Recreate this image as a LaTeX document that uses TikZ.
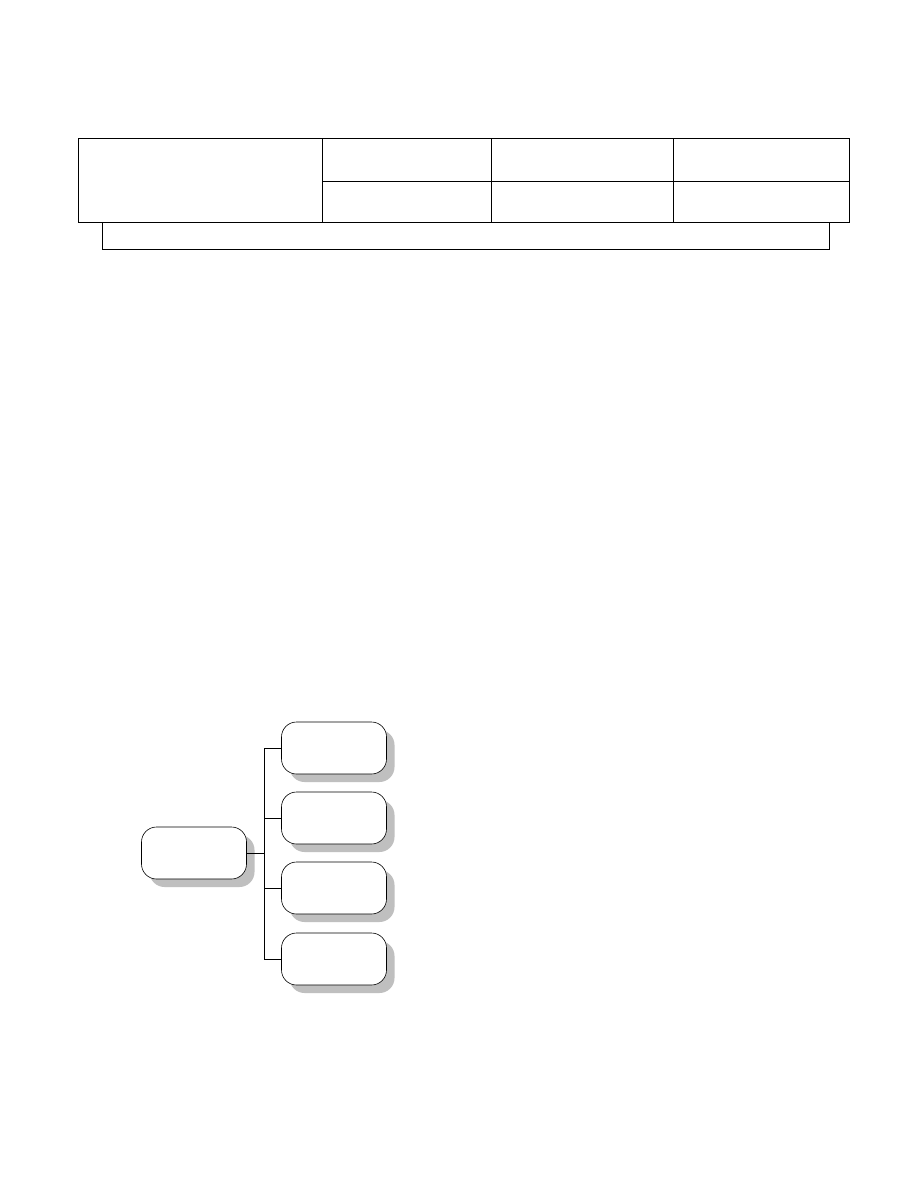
\documentclass[tikz,border=0pt]{standalone}
\usetikzlibrary{shadows}
\begin{document}
\begin{tikzpicture}[x=1pt,y=-1pt,
  cell/.style={draw=black,line width=1pt,inner sep=0pt,anchor=north west},
  rbox/.style={draw=black,line width=0.6pt,fill=white,rounded corners=15pt,
     minimum width=105pt,minimum height=52pt,inner sep=0pt,
     drop shadow={shadow xshift=8pt,shadow yshift=-8pt,fill=black!25,opacity=1}},
  link/.style={draw=black,line width=1pt}]
\useasboundingbox[fill=white] (0,0) rectangle (918,1188);
% table
\node[cell,minimum width=244pt,minimum height=84pt] (c00) at (78,138) {};
\node[cell,minimum width=169pt,minimum height=43pt] (c01) at (322,138) {};
\node[cell,minimum width=182pt,minimum height=43pt] (c02) at (491,138) {};
\node[cell,minimum width=176pt,minimum height=43pt] (c03) at (673,138) {};
\node[cell,minimum width=169pt,minimum height=41pt] (c11) at (322,181) {};
\node[cell,minimum width=182pt,minimum height=41pt] (c12) at (491,181) {};
\node[cell,minimum width=176pt,minimum height=41pt] (c13) at (673,181) {};
\node[cell,minimum width=727pt,minimum height=27pt] (bar) at (102,222) {};
% tree
\node[rbox] (root) at (194,853) {};
\node[rbox] (k1) at (334,748) {};
\node[rbox] (k2) at (334,818) {};
\node[rbox] (k3) at (334,888) {};
\node[rbox] (k4) at (334,959) {};
\coordinate (tr) at (264,853);
\draw[link] (root.east) -- (tr);
\draw[link] (k1.west) -| (tr);
\draw[link] (k2.west) -| (tr);
\draw[link] (k3.west) -| (tr);
\draw[link] (k4.west) -| (tr);
\end{tikzpicture}
\end{document}
